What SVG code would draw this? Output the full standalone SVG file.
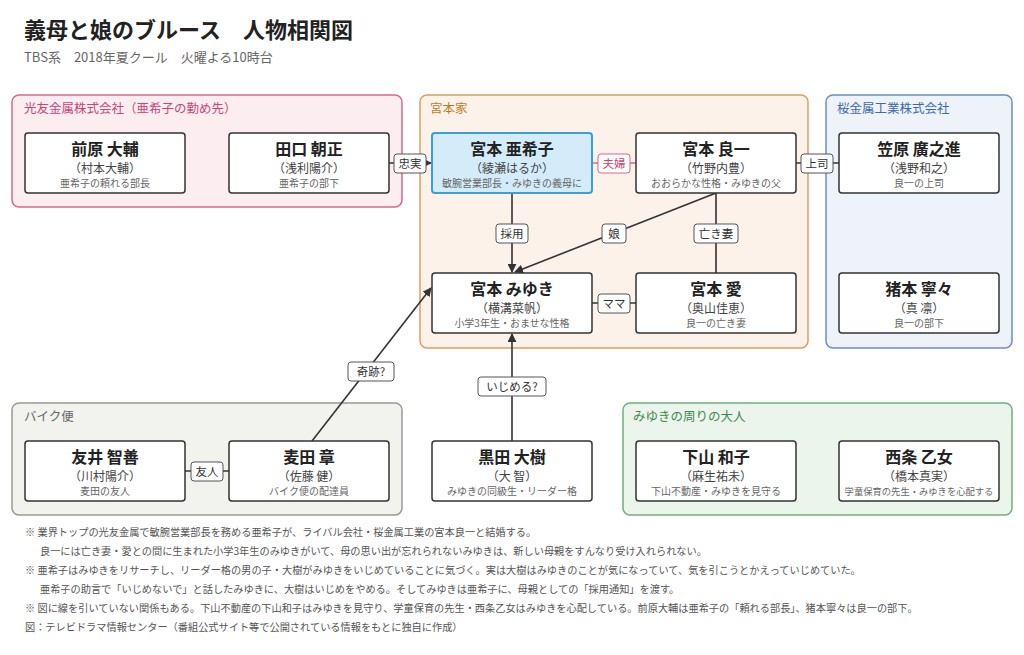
<svg xmlns="http://www.w3.org/2000/svg" width="1024" height="655" viewBox="0 0 1024 655">
<style>
text{font-family:"Noto Sans CJK JP","Noto Sans",sans-serif}
.grp{stroke-width:1.5}
.gl{font-size:12.5px}
.n rect{fill:#fff;stroke:#333;stroke-width:1.5}
.nm{font-size:16px;font-weight:bold;fill:#222;text-anchor:middle}
.ac{font-size:12px;fill:#444;text-anchor:middle}
.ds{font-size:10px;fill:#666;text-anchor:middle}
.ln{stroke:#333;stroke-width:1.6;fill:none}
.lb rect{fill:#fff;stroke:#555;stroke-width:1}
.lb text{font-size:11.5px;fill:#333;text-anchor:middle}
.ft{font-size:10.2px;fill:#555}
</style>
<defs><marker id="ar" viewBox="0 0 10 10" refX="9" refY="5" markerWidth="9" markerHeight="9" orient="auto-start-reverse" markerUnits="userSpaceOnUse"><path d="M0,0L10,5L0,10z" fill="#333"/></marker></defs>
<rect width="1024" height="655" fill="#fff"/>
<text x="24" y="38" font-size="22" font-weight="bold" fill="#222">義母と娘のブルース　人物相関図</text>
<text x="24" y="62" font-size="13" fill="#666">TBS系　2018年夏クール　火曜よる10時台</text>
<g id="groups">
<rect class="grp" x="12" y="95" width="390" height="112" rx="7" fill="#fcedf1" stroke="#d9688c"/>
<text class="gl" x="24" y="113" fill="#c9457a">光友金属株式会社（亜希子の勤め先）</text>
<rect class="grp" x="420" y="95" width="388" height="253" rx="7" fill="#fdf2e9" stroke="#d9a063"/>
<text class="gl" x="430" y="113" fill="#c27a2a">宮本家</text>
<rect class="grp" x="826" y="95" width="186" height="253" rx="7" fill="#eef3fa" stroke="#6a8fc7"/>
<text class="gl" x="837" y="113" fill="#3d6aa8">桜金属工業株式会社</text>
<rect class="grp" x="12" y="403" width="390" height="112" rx="7" fill="#f2f2ee" stroke="#9a9a94"/>
<text class="gl" x="24" y="421" fill="#666">バイク便</text>
<rect class="grp" x="623" y="403" width="389" height="112" rx="7" fill="#ebf5ec" stroke="#6fb07f"/>
<text class="gl" x="633" y="421" fill="#3f8a52">みゆきの周りの大人</text>
</g>
<g id="connectors">
<line class="ln" x1="389" y1="163" x2="431" y2="163" marker-end="url(#ar)"/>
<line x1="592" y1="163" x2="636" y2="163" stroke="#d9688c" stroke-width="1.6"/>
<line class="ln" x1="796" y1="163" x2="839" y2="163"/>
<line class="ln" x1="512" y1="193" x2="512" y2="272" marker-end="url(#ar)"/>
<line class="ln" x1="716" y1="193" x2="515" y2="272" marker-end="url(#ar)"/>
<line class="ln" x1="716" y1="193" x2="716" y2="273"/>
<line class="ln" x1="592" y1="303" x2="636" y2="303"/>
<line class="ln" x1="312" y1="441" x2="431" y2="288" marker-end="url(#ar)"/>
<line class="ln" x1="512" y1="441" x2="512" y2="334" marker-end="url(#ar)"/>
<line class="ln" x1="185" y1="471" x2="229" y2="471"/>
<g class="lb">
<rect x="394" y="154" width="32" height="19" rx="3"/><text x="410" y="168">忠実</text>
<rect x="598" y="154" width="32" height="19" rx="3" style="stroke:#d9688c"/><text x="614" y="168" style="fill:#d04070">夫婦</text>
<rect x="801" y="154" width="32" height="19" rx="3"/><text x="817" y="168">上司</text>
<rect x="496" y="224" width="32" height="19" rx="3"/><text x="512" y="238">採用</text>
<rect x="602" y="224" width="24" height="19" rx="3"/><text x="614" y="238">娘</text>
<rect x="694" y="224" width="44" height="19" rx="3"/><text x="716" y="238">亡き妻</text>
<rect x="598" y="294" width="32" height="19" rx="3"/><text x="614" y="308">ママ</text>
<rect x="348" y="362" width="46" height="19" rx="3"/><text x="371" y="376">奇跡?</text>
<rect x="478" y="377" width="68" height="19" rx="3"/><text x="512" y="391">いじめる?</text>
<rect x="191" y="462" width="32" height="19" rx="3"/><text x="207" y="476">友人</text>
</g>
</g>
<g id="n-maehara" class="n"><rect x="25" y="133" width="160" height="60" rx="3"/><text class="nm" x="105" y="155">前原 大輔</text><text class="ac" x="105" y="173">（村本大輔）</text><text class="ds" x="105" y="187">亜希子の頼れる部長</text></g>
<g id="n-taguchi" class="n"><rect x="229" y="133" width="160" height="60" rx="3"/><text class="nm" x="309" y="155">田口 朝正</text><text class="ac" x="309" y="173">（浅利陽介）</text><text class="ds" x="309" y="187">亜希子の部下</text></g>
<g id="n-akiko" class="n"><rect x="432" y="133" width="160" height="60" rx="3" style="fill:#d4ebfa;stroke:#35a0da;stroke-width:2"/><text class="nm" x="512" y="155">宮本 亜希子</text><text class="ac" x="512" y="173">（綾瀬はるか）</text><text class="ds" x="512" y="187">敏腕営業部長・みゆきの義母に</text></g>
<g id="n-ryoichi" class="n"><rect x="636" y="133" width="160" height="60" rx="3"/><text class="nm" x="716" y="155">宮本 良一</text><text class="ac" x="716" y="173">（竹野内豊）</text><text class="ds" x="716" y="187">おおらかな性格・みゆきの父</text></g>
<g id="n-kasahara" class="n"><rect x="839" y="133" width="160" height="60" rx="3"/><text class="nm" x="919" y="155">笠原 廣之進</text><text class="ac" x="919" y="173">（浅野和之）</text><text class="ds" x="919" y="187">良一の上司</text></g>
<g id="n-miyuki" class="n"><rect x="432" y="273" width="160" height="60" rx="3"/><text class="nm" x="512" y="295">宮本 みゆき</text><text class="ac" x="512" y="313">（横溝菜帆）</text><text class="ds" x="512" y="327">小学3年生・おませな性格</text></g>
<g id="n-ai" class="n"><rect x="636" y="273" width="160" height="60" rx="3"/><text class="nm" x="716" y="295">宮本 愛</text><text class="ac" x="716" y="313">（奥山佳恵）</text><text class="ds" x="716" y="327">良一の亡き妻</text></g>
<g id="n-inomoto" class="n"><rect x="839" y="273" width="160" height="60" rx="3"/><text class="nm" x="919" y="295">猪本 寧々</text><text class="ac" x="919" y="313">（真 凛）</text><text class="ds" x="919" y="327">良一の部下</text></g>
<g id="n-tomoi" class="n"><rect x="25" y="441" width="160" height="60" rx="3"/><text class="nm" x="105" y="463">友井 智善</text><text class="ac" x="105" y="481">（川村陽介）</text><text class="ds" x="105" y="495">麦田の友人</text></g>
<g id="n-mugita" class="n"><rect x="229" y="441" width="160" height="60" rx="3"/><text class="nm" x="309" y="463">麦田 章</text><text class="ac" x="309" y="481">（佐藤 健）</text><text class="ds" x="309" y="495">バイク便の配達員</text></g>
<g id="n-kuroda" class="n"><rect x="432" y="441" width="160" height="60" rx="3"/><text class="nm" x="512" y="463">黒田 大樹</text><text class="ac" x="512" y="481">（大 智）</text><text class="ds" x="512" y="495">みゆきの同級生・リーダー格</text></g>
<g id="n-shimoyama" class="n"><rect x="636" y="441" width="160" height="60" rx="3"/><text class="nm" x="716" y="463">下山 和子</text><text class="ac" x="716" y="481">（麻生祐未）</text><text class="ds" x="716" y="495">下山不動産・みゆきを見守る</text></g>
<g id="n-saijo" class="n"><rect x="839" y="441" width="160" height="60" rx="3"/><text class="nm" x="919" y="463">西条 乙女</text><text class="ac" x="919" y="481">（橋本真実）</text><text class="ds" x="919" y="495" style="font-size:9.3px">学童保育の先生・みゆきを心配する</text></g>
<g id="notes">
<text class="ft" x="25" y="536">※ 業界トップの光友金属で敏腕営業部長を務める亜希子が、ライバル会社・桜金属工業の宮本良一と結婚する。</text>
<text class="ft" x="40" y="555">良一には亡き妻・愛との間に生まれた小学3年生のみゆきがいて、母の思い出が忘れられないみゆきは、新しい母親をすんなり受け入れられない。</text>
<text class="ft" x="25" y="574">※ 亜希子はみゆきをリサーチし、リーダー格の男の子・大樹がみゆきをいじめていることに気づく。実は大樹はみゆきのことが気になっていて、気を引こうとかえっていじめていた。</text>
<text class="ft" x="40" y="593">亜希子の助言で「いじめないで」と話したみゆきに、大樹はいじめをやめる。そしてみゆきは亜希子に、母親としての「採用通知」を渡す。</text>
<text class="ft" x="25" y="612">※ 図に線を引いていない関係もある。下山不動産の下山和子はみゆきを見守り、学童保育の先生・西条乙女はみゆきを心配している。前原大輔は亜希子の「頼れる部長」、猪本寧々は良一の部下。</text>
<text class="ft" x="25" y="631">図：テレビドラマ情報センター（番組公式サイト等で公開されている情報をもとに独自に作成）</text>
</g>
</svg>
